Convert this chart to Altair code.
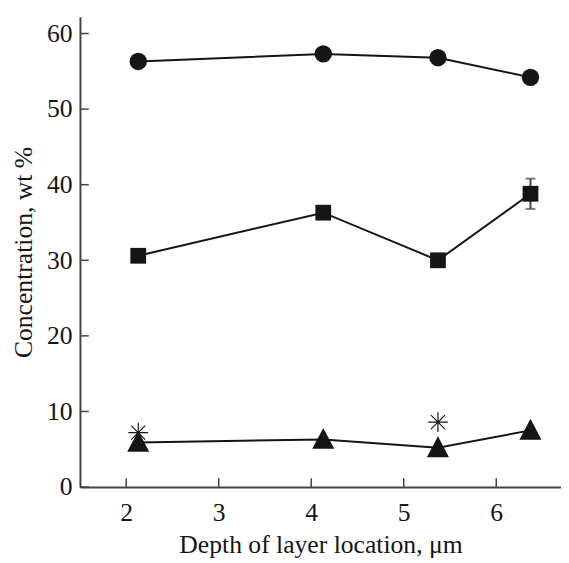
import altair as alt
import pandas as pd

depth = [2.13, 4.13, 5.37, 6.37]
circle_vals = [56.3, 57.3, 56.8, 54.2]
square_vals = [30.6, 36.3, 30.0, 38.8]
triangle_vals = [5.9, 6.3, 5.2, 7.5]
star_depth = [2.13, 5.37]
star_vals = [7.2, 8.6]
err_depth = [6.37]
err_low = [36.8]
err_high = [40.8]
x_ticks = [2, 3, 4, 5, 6]
y_ticks = [0, 10, 20, 30, 40, 50, 60]

W, H = 488, 477
FONT = "Liberation Serif"
INK = "#151515"

xs = alt.Scale(domain=[1.5, 6.7], nice=False, zero=False)
ys = alt.Scale(domain=[0, 62.2], nice=False)

df = pd.DataFrame({
    "x": depth * 3,
    "y": circle_vals + square_vals + triangle_vals,
    "s": ["circle"] * 4 + ["square"] * 4 + ["triangle"] * 4,
})
stars = pd.DataFrame({"x": star_depth, "y": star_vals})
err = pd.DataFrame({"x": err_depth, "lo": err_low, "hi": err_high})
xt = pd.DataFrame({"v": x_ticks})
yt = pd.DataFrame({"v": y_ticks})

xax = alt.Axis(values=x_ticks, format="d", title="Depth of layer location, μm",
               labelPadding=13, titlePadding=6, grid=False, ticks=False,
               domainColor="#444", domainWidth=2, labelFont=FONT, titleFont=FONT,
               labelFontSize=26, titleFontSize=26, titleFontWeight="normal",
               labelColor=INK, titleColor=INK)
yax = alt.Axis(values=y_ticks, format="d", title="Concentration, wt %",
               labelPadding=8, titlePadding=10, grid=False, ticks=False,
               domainColor="#444", domainWidth=2, labelFont=FONT, titleFont=FONT,
               labelFontSize=26, titleFontSize=26, titleFontWeight="normal",
               labelColor=INK, titleColor=INK)

X = lambda f: alt.X(f, scale=xs, axis=xax)
Y = lambda f: alt.Y(f, scale=ys, axis=yax)

base = alt.Chart(df)

lines = base.mark_line(color=INK, strokeWidth=2).encode(
    x=X("x:Q"), y=Y("y:Q"), detail="s:N",
)

circles = base.transform_filter(alt.datum.s == "circle").mark_point(
    shape="circle", filled=True, color=INK, size=310, opacity=1
).encode(x=X("x:Q"), y=Y("y:Q"))

squares = base.transform_filter(alt.datum.s == "square").mark_point(
    shape="square", filled=True, color=INK, size=256, opacity=1
).encode(x=X("x:Q"), y=Y("y:Q"))

tris = base.transform_filter(alt.datum.s == "triangle").mark_point(
    shape="M0,-1.05L1,0.85L-1,0.85Z", filled=True, color=INK, size=500, opacity=1
).encode(x=X("x:Q"), y=Y("y:Q"))

star_pts = alt.Chart(stars).mark_point(
    shape="M-1,0L1,0M0,-1L0,1M-0.71,-0.71L0.71,0.71M-0.71,0.71L0.71,-0.71",
    filled=False, color=INK, size=400, strokeWidth=1.2, opacity=1
).encode(x=X("x:Q"), y=Y("y:Q"))

err_bar = alt.Chart(err).mark_rule(color="#444", strokeWidth=2).encode(
    x=X("x:Q"), y=Y("lo:Q"), y2="hi:Q")
err_top = alt.Chart(err).mark_tick(color="#444", thickness=2, size=10,
                                   orient="horizontal").encode(
    x=X("x:Q"), y=Y("hi:Q"))
err_bot = alt.Chart(err).mark_tick(color="#444", thickness=2, size=10,
                                   orient="horizontal").encode(
    x=X("x:Q"), y=Y("lo:Q"))

xticks = alt.Chart(xt).mark_rule(color="#444", strokeWidth=1.5).encode(
    x=X("v:Q"), y=alt.value(H), y2=alt.value(H - 9))
yticks = alt.Chart(yt).mark_rule(color="#444", strokeWidth=1.5).encode(
    y=Y("v:Q"), x=alt.value(0), x2=alt.value(9))

chart = alt.layer(
    lines, xticks, yticks, err_bar, err_top, err_bot, circles, squares, tris, star_pts
).properties(
    width=W, height=H, background="white",
    autosize=alt.AutoSizeParams(type="none"),
    padding={"left": 73, "top": 5, "right": 0, "bottom": 72},
).configure_view(stroke=None)

chart.save("out.html", embed_options={"renderer": "svg", "actions": False})
